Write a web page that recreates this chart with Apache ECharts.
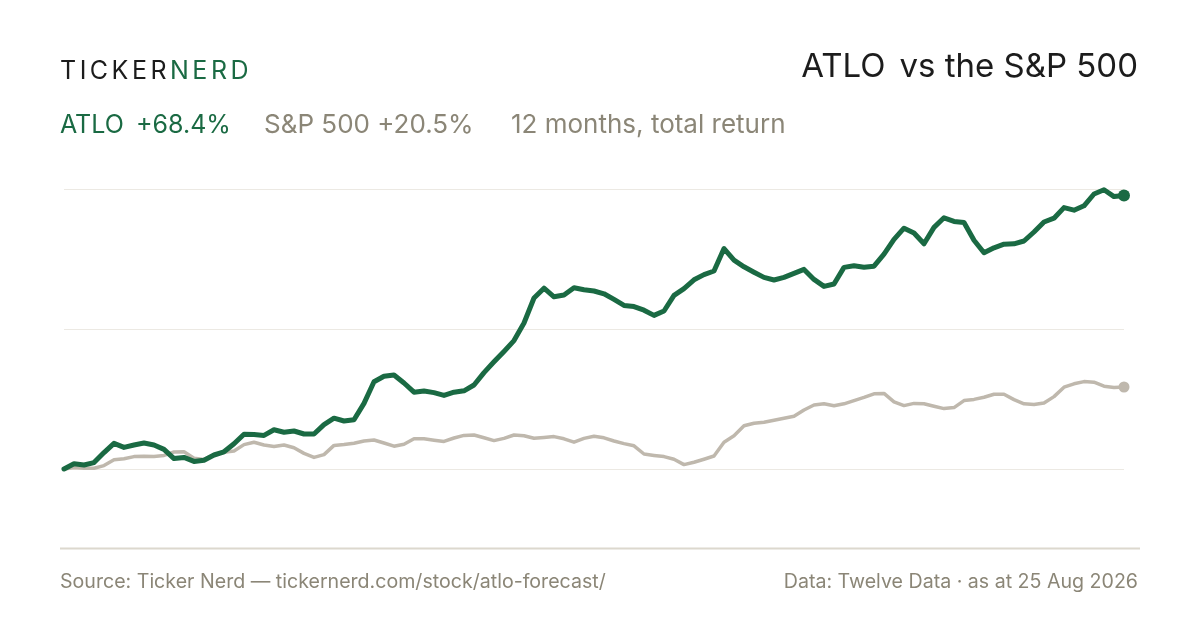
<!DOCTYPE html>
<html>
<head>
<meta charset="utf-8">
<script src="https://cdn.jsdelivr.net/npm/echarts@6/dist/echarts.min.js"></script>
<style>
html,body{margin:0;padding:0;background:#ffffff;}
#c{width:1200px;height:630px;}
</style>
</head>
<body>
<div id="c"></div>
<script>
// ---- data (cumulative total return, %) ----
const atlo = [0,1.3,1.0,1.6,4.1,6.4,5.4,6.0,6.5,6.0,4.9,2.6,2.9,1.9,2.2,3.5,4.3,6.3,8.7,8.6,
  8.4,9.8,9.2,9.5,8.75,8.75,11.1,12.7,12.0,12.3,16.4,21.8,23.2,23.5,21.5,19.2,19.5,19.1,18.4,19.2,
  19.55,21.0,24.1,26.8,29.4,32.1,36.5,42.75,45.2,43.05,43.5,45.3,44.8,44.5,43.8,42.4,40.9,40.6,39.7,38.4,
  39.5,43.4,45.1,47.3,48.6,49.5,55.1,52.2,50.55,49.2,47.9,47.25,47.9,48.9,49.9,47.4,45.65,46.25,50.4,50.8,
  50.45,50.7,53.7,57.4,60.2,59.0,56.3,60.4,62.8,61.9,61.6,57.2,54.05,55.3,56.2,56.3,57.0,59.25,61.75,62.7,
  65.35,64.7,65.8,68.75,69.8,68.1,68.4];
const spx = [0,0.4,0.2,0.2,0.85,2.3,2.55,3.1,3.2,3.1,3.4,4.25,4.3,2.7,2.4,3.55,4.2,4.5,6.1,6.7,
  6.0,5.6,6.0,5.3,3.9,2.9,3.6,5.9,6.1,6.45,7.0,7.25,6.5,5.7,6.2,7.55,7.55,7.2,6.9,7.75,
  8.4,8.5,7.8,7.1,7.65,8.5,8.3,7.7,7.9,8.1,7.55,6.7,7.65,8.2,7.8,7.0,6.35,5.8,3.75,3.4,
  3.1,2.45,1.1,1.7,2.45,3.25,6.7,8.3,10.8,11.45,11.7,12.2,12.7,13.2,14.75,16.0,16.3,15.8,16.3,17.1,
  17.9,18.8,18.9,16.8,15.85,16.4,16.3,15.7,15.1,15.35,17.1,17.4,17.95,18.7,18.7,17.35,16.3,16.1,16.5,18.1,
  20.45,21.3,21.85,21.7,20.7,20.4,20.5];
const categories = atlo.map((_, i) => 'P' + i);
const yTicks = { min: -35, max: 70, step: 35 };

const logoLeft = 'TICKER';
const logoRight = 'NERD';
const titleTicker = 'ATLO';
const titleRest = 'vs the S&P 500';
const stockName = 'ATLO';
const stockReturn = '+68.4%';
const indexLabel = 'S&P 500 +20.5%';
const periodLabel = '12 months, total return';
const sourceText = 'Source: Ticker Nerd \u2014 tickernerd.com/stock/atlo-forecast/';
const dataText = 'Data: Twelve Data \u00b7 as at 25 Aug 2026';

const GREEN = '#1a6a43';
const GREY_LINE = '#bfb8ad';
const GREY_TEXT = '#8b8677';
const DARK = '#1c1c1c';
const FONT = 'Inter, "Noto Sans", sans-serif';

const spaced = (s, tag) => s.split('').map(ch => '{' + tag + '|' + ch + '}').join('');
const rs = (color, size, extra) => Object.assign({ color: color, fontSize: size, fontFamily: FONT, fontWeight: 'normal' }, extra || {});

const chart = echarts.init(document.getElementById('c'), null, { renderer: 'canvas' });
const last = atlo.length - 1;

chart.setOption({
  backgroundColor: '#ffffff',
  animation: false,
  textStyle: { fontFamily: FONT, fontWeight: 'normal' },
  title: [
    {
      left: 60, top: 59, padding: 0,
      text: spaced(logoLeft, 'd') + spaced(logoRight, 'g'),
      textStyle: {
        fontWeight: 'normal',
        rich: {
          d: rs(DARK, 25, { padding: [0, 3.5, 0, 0] }),
          g: rs(GREEN, 25, { padding: [0, 3.5, 0, 0] })
        }
      }
    },
    {
      right: 62, top: 51, padding: 0,
      text: '{t1|' + titleTicker + '}{t2|' + titleRest + '}',
      textStyle: {
        fontWeight: 'normal',
        rich: {
          t1: rs(DARK, 33, { padding: [0, 14, 0, 0] }),
          t2: rs(DARK, 33)
        }
      }
    },
    {
      left: 60, top: 112, padding: 0,
      text: '{a1|' + stockName + '}{a2|' + stockReturn + '}{b|' + indexLabel + '}{c|' + periodLabel + '}',
      textStyle: {
        fontWeight: 'normal',
        rich: {
          a1: rs(GREEN, 25, { width: 76 }),
          a2: rs(GREEN, 25, { width: 128 }),
          b: rs(GREY_TEXT, 26, { width: 247 }),
          c: rs(GREY_TEXT, 26)
        }
      }
    },
    {
      left: 60, top: 572, padding: 0,
      text: sourceText,
      textStyle: { color: GREY_TEXT, fontSize: 19.6, fontWeight: 'normal', fontFamily: FONT }
    },
    {
      right: 62, top: 572, padding: 0,
      text: dataText,
      textStyle: { color: GREY_TEXT, fontSize: 19.6, fontWeight: 'normal', fontFamily: FONT }
    }
  ],
  grid: { left: 64, right: 76, top: 189, bottom: 21, containLabel: false },
  xAxis: {
    type: 'category', data: categories, boundaryGap: false,
    axisLine: { show: false }, axisTick: { show: false }, axisLabel: { show: false },
    splitLine: { show: false }
  },
  yAxis: {
    type: 'value', min: yTicks.min, max: yTicks.max, interval: yTicks.step,
    axisLine: { show: false }, axisTick: { show: false }, axisLabel: { show: false },
    splitLine: { show: true, showMinLine: false, lineStyle: { color: '#ece9e3', width: 1 } }
  },
  graphic: [
    { type: 'line', shape: { x1: 60, y1: 548.5, x2: 1140, y2: 548.5 },
      style: { stroke: '#dcd8ce', lineWidth: 2 }, silent: true }
  ],
  series: [
    {
      name: 'S&P 500', type: 'line', data: spx, symbol: 'none',
      lineStyle: { color: GREY_LINE, width: 3.5, join: 'round', cap: 'round' },
      itemStyle: { color: GREY_LINE }, z: 2
    },
    {
      name: 'ATLO', type: 'line', data: atlo, symbol: 'none',
      lineStyle: { color: GREEN, width: 5, join: 'round', cap: 'round' },
      itemStyle: { color: GREEN }, z: 3
    },
    {
      type: 'scatter', data: [[categories[last], spx[last]]], symbol: 'circle', symbolSize: 11,
      itemStyle: { color: GREY_LINE, opacity: 1 }, z: 4, silent: true
    },
    {
      type: 'scatter', data: [[categories[last], atlo[last]]], symbol: 'circle', symbolSize: 12,
      itemStyle: { color: GREEN, opacity: 1 }, z: 5, silent: true
    }
  ]
});
</script>
</body>
</html>
